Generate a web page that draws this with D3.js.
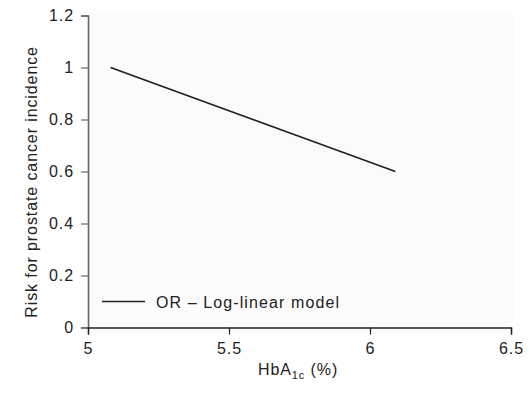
<!DOCTYPE html>
<html>
<head>
<meta charset="utf-8">
<script src="https://cdn.jsdelivr.net/npm/d3@7"></script>
<style>
  body { margin: 0; background: #fff; }
  text { font-family: "Liberation Sans", Arial, sans-serif; fill: #222; letter-spacing: 0.9px; }
</style>
</head>
<body>
<div id="chart"></div>
<script>
// data
const hba1c = [5.08, 6.09];
const orValues = [1.0, 0.6];
const xTicks = [5, 5.5, 6, 6.5];
const yTicks = [0, 0.2, 0.4, 0.6, 0.8, 1, 1.2];
const seriesName = 'OR \u2013 Log-linear model';

const width = 531, height = 393;
const margin = { left: 88, right: 20, top: 15.5, bottom: 65.5 };
const ctrW = 511 - margin.left;
const ctrH = height - margin.top - margin.bottom;

const svg = d3.select('#chart').append('svg')
  .attr('width', width)
  .attr('height', height);

const ctr = svg.append('g')
  .attr('transform', `translate(${margin.left}, ${margin.top})`);

const xScale = d3.scaleLinear().domain([5, 6.5]).range([0, ctrW]);
const yScale = d3.scaleLinear().domain([0, 1.2]).range([ctrH, 0]);

// faint plot background
ctr.append('rect')
  .attr('x', 0).attr('y', -2)
  .attr('width', ctrW + 2).attr('height', ctrH + 8)
  .attr('fill', '#fbfbfb');

// y axis
const yAxis = d3.axisLeft(yScale)
  .tickValues(yTicks)
  .tickSize(7)
  .tickPadding(7)
  .tickFormat(d => d3.format('~g')(d));
const yG = ctr.append('g').call(yAxis);
yG.select('.domain').attr('stroke', '#666').attr('stroke-width', 1.6);
yG.selectAll('.tick line').attr('stroke', '#666').attr('stroke-width', 1.2);
yG.selectAll('.tick text').style('font-size', '16px').attr('fill', '#222');

// x axis
const xAxis = d3.axisBottom(xScale)
  .tickValues(xTicks)
  .tickSize(7)
  .tickPadding(8)
  .tickFormat(d => d3.format('~g')(d));
const xG = ctr.append('g')
  .attr('transform', `translate(0, ${ctrH})`)
  .call(xAxis);
xG.select('.domain').attr('stroke', '#222').attr('stroke-width', 1.4);
xG.selectAll('.tick line').attr('stroke', '#222').attr('stroke-width', 1.2);
xG.selectAll('.tick text').style('font-size', '16px').attr('fill', '#222');

// the series line
const line = d3.line()
  .x((d, i) => xScale(hba1c[i]))
  .y(d => yScale(d));
ctr.append('path')
  .datum(orValues)
  .attr('d', line)
  .attr('fill', 'none')
  .attr('stroke', '#222')
  .attr('stroke-width', 1.8);

// legend
const legend = ctr.append('g')
  .attr('transform', `translate(14, ${yScale(0.1)})`);
legend.append('line')
  .attr('x1', 0).attr('x2', 43)
  .attr('y1', 0).attr('y2', 0)
  .attr('stroke', '#222').attr('stroke-width', 1.4);
legend.append('text')
  .attr('x', 54).attr('y', 6)
  .style('font-size', '16px')
  .style('letter-spacing', '1.1px')
  .text(seriesName);

// axis titles
const xTitle = svg.append('text')
  .attr('x', margin.left + xScale(5.745))
  .attr('y', 375)
  .attr('text-anchor', 'middle')
  .style('font-size', '16px');
xTitle.append('tspan').text('HbA');
xTitle.append('tspan').attr('dy', 4).style('font-size', '11px').text('1c');
xTitle.append('tspan').attr('dy', -4).text(' (%)');

svg.append('text')
  .attr('transform', `translate(37, ${margin.top + yScale(0.56)}) rotate(-90)`)
  .attr('text-anchor', 'middle')
  .style('font-size', '16px')
  .text('Risk for prostate cancer incidence');
</script>
</body>
</html>
